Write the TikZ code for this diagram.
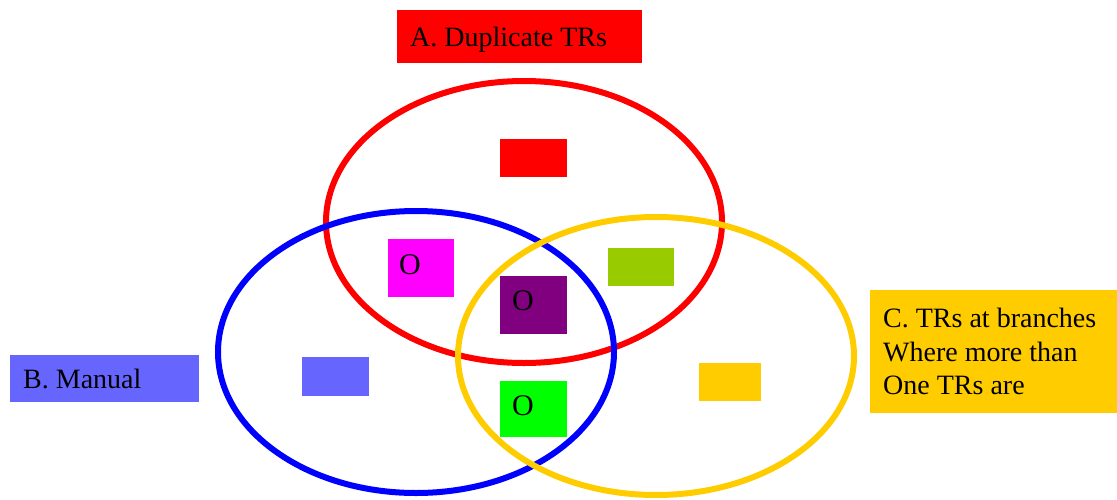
\documentclass[tikz,border=0pt]{standalone}
\usepackage{fontspec}
\setmainfont{Liberation Serif}
\definecolor{cRed}{HTML}{FF0000}
\definecolor{cBlue}{HTML}{0000FF}
\definecolor{cGold}{HTML}{FFCC00}
\definecolor{cPeri}{HTML}{6666FF}
\definecolor{cMag}{HTML}{FF00FF}
\definecolor{cPurp}{HTML}{800080}
\definecolor{cOlive}{HTML}{99CC00}
\definecolor{cLime}{HTML}{00FF00}
\begin{document}
\begin{tikzpicture}[x=1pt,y=-1pt,
  ring/.style={line width=6pt},
  patch/.style={draw=none, inner sep=0pt, outer sep=0pt, anchor=north west},
  lbl/.style={anchor=base west, inner sep=0pt, font=\fontsize{28}{33}\selectfont},
  olbl/.style={anchor=base west, inner sep=0pt, font=\fontsize{30}{30}\selectfont}]
\useasboundingbox (0,0) rectangle (1117,499);

% sets
\draw[ring, cRed]  (524,222) ellipse [x radius=198pt, y radius=141pt];
\draw[ring, cBlue] (416,352) ellipse [x radius=198pt, y radius=141pt];
\draw[ring, cGold] (656,356) ellipse [x radius=198pt, y radius=139pt];

% legend boxes
\node[patch, fill=cRed,  minimum width=245pt, minimum height=53pt] (boxA) at (397,10) {};
\node[lbl] (txtA) at (410,46.7) {A. Duplicate TRs};
\node[patch, fill=cPeri, minimum width=189pt, minimum height=47pt] (boxB) at (10,355) {};
\node[lbl] (txtB) at (23,388.3) {B. Manual};
\node[patch, fill=cGold, minimum width=247pt, minimum height=123pt] (boxC) at (870,290) {};
\node[lbl] (txtC1) at (883,327.7) {C. TRs at branches};
\node[lbl] (txtC2) at (883,361.2) {Where more than};
\node[lbl] (txtC3) at (883,394.3) {One TRs are};

% region markers
\node[patch, fill=cRed,   minimum width=67pt, minimum height=38pt] (rA)   at (500,139) {};
\node[patch, fill=cMag,   minimum width=66pt, minimum height=58pt] (rAB)  at (388,239) {};
\node[olbl] (oAB) at (399,274.5) {O};
\node[patch, fill=cPurp,  minimum width=67pt, minimum height=58pt] (rABC) at (500,276) {};
\node[olbl] (oABC) at (512,310) {O};
\node[patch, fill=cOlive, minimum width=66pt, minimum height=38pt] (rAC)  at (608,248) {};
\node[patch, fill=cPeri,  minimum width=67pt, minimum height=39pt] (rB)   at (302,357) {};
\node[patch, fill=cLime,  minimum width=67pt, minimum height=56pt] (rBC)  at (500,381) {};
\node[olbl] (oBC) at (512,415.5) {O};
\node[patch, fill=cGold,  minimum width=62pt, minimum height=38pt] (rC)   at (699,363) {};
\end{tikzpicture}
\end{document}
